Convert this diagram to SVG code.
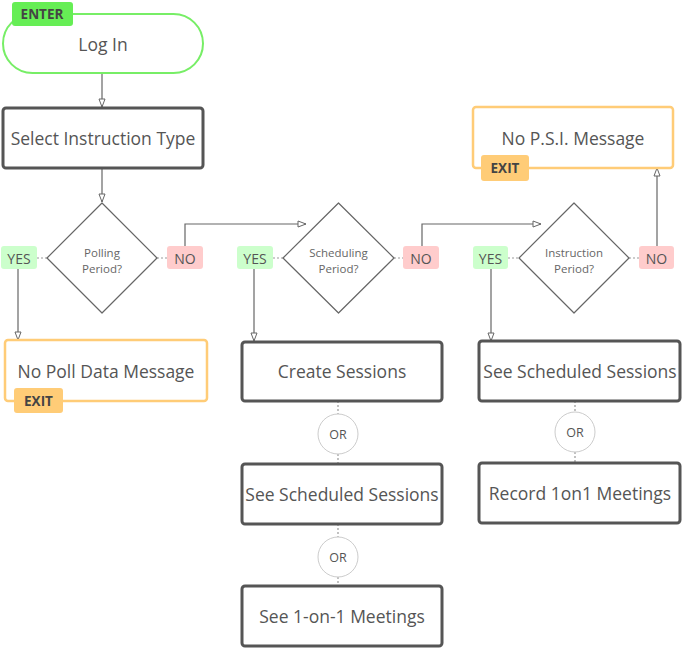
<svg xmlns="http://www.w3.org/2000/svg" width="683" height="649" viewBox="0 0 683 649">
<defs>
<marker id="arr" viewBox="0 0 10 8" refX="9" refY="4" markerWidth="10" markerHeight="8" markerUnits="userSpaceOnUse" orient="auto">
<path d="M1,1 L9,4 L1,7 Z" fill="#fff" stroke="#666" stroke-width="1"/>
</marker>
<style>
text{font-family:"Open Sans","Noto Sans",sans-serif;fill:#555;text-anchor:middle;dominant-baseline:central}
.box{fill:#fff;stroke:#555;stroke-width:3}
.exitbox{fill:#fff;stroke:#ffcc77;stroke-width:2.5}
.lbl{font-size:17.5px}
.dlbl{font-size:11.5px;fill:#666}
.dia{fill:#fff;stroke:#666;stroke-width:1.2;stroke-linejoin:round}
.yes{fill:#ccffcc}
.no{fill:#ffcccc}
.exit{fill:#ffcc77}
.enter{fill:#66ee55}
.badge{font-size:14px;fill:#555}
.bold{font-size:13.5px;font-weight:bold;fill:#444}
.or{fill:#fff;stroke:#ccc;stroke-width:1}
.ortxt{font-size:12.5px;fill:#555}
.line{fill:none;stroke:#666;stroke-width:1.2}
.dot{fill:none;stroke:#999;stroke-width:1.2;stroke-dasharray:2,2}
</style>
</defs>
<g id="connectors">
<path class="line" d="M102,73 V107" marker-end="url(#arr)"/>
<path class="line" d="M102,168 V202" marker-end="url(#arr)"/>
<path class="line" d="M185,246 V224 H306" marker-end="url(#arr)"/>
<path class="line" d="M422,246 V224 H541" marker-end="url(#arr)"/>
<path class="line" d="M657,246 V168" marker-end="url(#arr)"/>
<path class="line" d="M18,269 V340" marker-end="url(#arr)"/>
<path class="line" d="M254,269 V341" marker-end="url(#arr)"/>
<path class="line" d="M491,269 V341" marker-end="url(#arr)"/>
<path class="dot" d="M37,258 H47 M157,258 H167"/>
<path class="dot" d="M273,258 H283 M394,258 H403"/>
<path class="dot" d="M508,258 H519 M629,258 H639"/>
<path class="dot" d="M338,401 V414 M338,454 V464 M338,524 V537 M338,577 V586"/>
<path class="dot" d="M575,401 V412 M575,452 V463"/>
</g>
<g id="login">
<rect x="3" y="14" width="200" height="59" rx="29.5" fill="#fff" stroke="#77ee66" stroke-width="2"/>
<text class="lbl" x="103" y="44">Log In</text>
<rect class="enter" x="12" y="2" width="61" height="24" rx="3"/>
<text class="badge bold" x="42" y="14">ENTER</text>
</g>
<g id="select">
<rect class="box" x="3" y="108" width="200" height="60" rx="3"/>
<text class="lbl" x="103" y="138">Select Instruction Type</text>
</g>
<g id="polling">
<path class="dia" d="M102,203 L157,258 L102,313 L47,258 Z"/>
<text class="dlbl" x="102" y="252">Polling</text>
<text class="dlbl" x="102" y="268">Period?</text>
<rect class="yes" x="1" y="246" width="36" height="23" rx="3"/>
<text class="badge" x="19" y="258">YES</text>
<rect class="no" x="167" y="246" width="36" height="23" rx="3"/>
<text class="badge" x="185" y="258">NO</text>
</g>
<g id="nopoll">
<rect class="exitbox" x="5" y="340" width="202" height="61" rx="3"/>
<text class="lbl" x="106" y="371">No Poll Data Message</text>
<rect class="exit" x="14" y="388" width="49" height="25" rx="3"/>
<text class="badge bold" x="38.5" y="401">EXIT</text>
</g>
<g id="scheduling">
<path class="dia" d="M338.5,203 L394,258 L338.5,313 L283,258 Z"/>
<text class="dlbl" x="338.5" y="252">Scheduling</text>
<text class="dlbl" x="338.5" y="268">Period?</text>
<rect class="yes" x="237" y="246" width="36" height="23" rx="3"/>
<text class="badge" x="255" y="258">YES</text>
<rect class="no" x="403" y="246" width="36" height="23" rx="3"/>
<text class="badge" x="421" y="258">NO</text>
</g>
<g id="instruction">
<path class="dia" d="M574,203 L629,258 L574,313 L519,258 Z"/>
<text class="dlbl" x="574" y="252">Instruction</text>
<text class="dlbl" x="574" y="268">Period?</text>
<rect class="yes" x="473" y="246" width="35" height="23" rx="3"/>
<text class="badge" x="490.5" y="258">YES</text>
<rect class="no" x="639" y="246" width="35" height="23" rx="3"/>
<text class="badge" x="656.5" y="258">NO</text>
</g>
<g id="nopsi">
<rect class="exitbox" x="473" y="107" width="200" height="61" rx="3"/>
<text class="lbl" x="573" y="138">No P.S.I. Message</text>
<rect class="exit" x="481" y="155" width="48" height="26" rx="3"/>
<text class="badge bold" x="505" y="168">EXIT</text>
</g>
<g id="create">
<rect class="box" x="242" y="342" width="200" height="59" rx="3"/>
<text class="lbl" x="342" y="371">Create Sessions</text>
</g>
<g id="or1">
<circle class="or" cx="338" cy="434" r="20"/>
<text class="ortxt" x="338" y="434">OR</text>
</g>
<g id="seesched1">
<rect class="box" x="242" y="464" width="200" height="60" rx="3"/>
<text class="lbl" x="342" y="494">See Scheduled Sessions</text>
</g>
<g id="or2">
<circle class="or" cx="338" cy="557" r="20"/>
<text class="ortxt" x="338" y="557">OR</text>
</g>
<g id="see1on1">
<rect class="box" x="242" y="586" width="200" height="60" rx="3"/>
<text class="lbl" x="342" y="616">See 1-on-1 Meetings</text>
</g>
<g id="seesched2">
<rect class="box" x="479" y="341" width="201" height="60" rx="3"/>
<text class="lbl" x="580" y="371">See Scheduled Sessions</text>
</g>
<g id="or3">
<circle class="or" cx="575" cy="432" r="20"/>
<text class="ortxt" x="575" y="432">OR</text>
</g>
<g id="record">
<rect class="box" x="479" y="463" width="201" height="60" rx="3"/>
<text class="lbl" x="580" y="493">Record 1on1 Meetings</text>
</g>
</svg>
